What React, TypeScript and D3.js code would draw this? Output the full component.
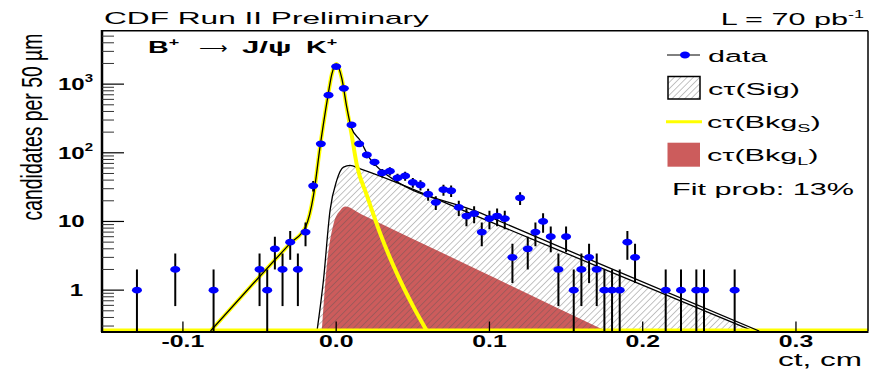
import React from "react";
import * as d3 from "d3";

const W = 876;
const H = 372;
const FONT = "'Liberation Sans', Arial, Helvetica, sans-serif";

// bin centres (cm) and candidates per 50 um
const binCt = [
  -0.13, -0.105, -0.08, -0.05, -0.045, -0.04, -0.035, -0.03, -0.025, -0.02, -0.015, -0.01, -0.005,
  0.0, 0.005, 0.01, 0.015, 0.02, 0.025, 0.03, 0.035, 0.04, 0.045, 0.05, 0.055, 0.06, 0.065, 0.07,
  0.075, 0.08, 0.085, 0.09, 0.095, 0.1, 0.105, 0.11, 0.115, 0.12, 0.125, 0.13, 0.135, 0.14, 0.145,
  0.15, 0.155, 0.16, 0.165, 0.17, 0.175, 0.18, 0.185, 0.19, 0.195, 0.215, 0.225, 0.235, 0.24, 0.26,
];
const binCounts = [
  1, 2, 1, 2, 1, 4, 2, 5, 2, 7, 33, 135, 690,
  1800, 870, 255, 135, 93, 73, 51, 54, 43, 46, 37, 34, 25, 19, 29,
  28, 16, 12, 13, 7, 11, 12, 11, 3, 22, 4, 7, 10, 6, 2,
  6, 1, 2, 3, 2, 1, 1, 1, 5, 3, 1, 1, 1, 1, 1,
];

// fit components (only the part above the axis floor)
const bkgSCt = [-0.082, -0.056, -0.03, -0.02, -0.0148, -0.0104, -0.0057, -0.0028, 0, 0.0037, 0.007, 0.0098, 0.0135, 0.02, 0.0287, 0.0396, 0.0504, 0.0592];
const bkgSVal = [0.25, 1.12, 4.8, 8.3, 24, 128, 611, 1410, 1970, 1194, 437, 200, 66, 24, 6.7, 1.75, 0.57, 0.25];

const totalCt = [-0.082, -0.056, -0.03, -0.02, -0.0148, -0.0104, -0.0057, -0.0028, 0, 0.0037, 0.007, 0.0098, 0.0157, 0.022, 0.0287, 0.094, 0.179, 0.276];
const totalVal = [0.25, 1.12, 4.8, 8.3, 24, 128, 611, 1410, 1970, 1200, 450, 235, 151, 82, 57, 13.3, 2.07, 0.25];

const sigCt = [-0.0125, -0.0083, -0.004, 0.0004, 0.0048, 0.009, 0.0157, 0.094, 0.179, 0.272];
const sigVal = [0.25, 1.4, 14.5, 40, 62, 65.6, 58.5, 11.4, 1.85, 0.25];

const bkgLCt = [-0.0094, -0.006, -0.0017, 0.0026, 0.006, 0.0157, 0.094, 0.176];
const bkgLVal = [0.25, 2.4, 9.3, 14.5, 16.5, 13, 1.9, 0.25];

const xTicks = [-0.1, 0.0, 0.1, 0.2, 0.3];
const xTickLabels = ["-0.1", "0.0", "0.1", "0.2", "0.3"];
const yMajor = [1, 10, 100, 1000];
const yMajorBase = ["1", "10", "10", "10"];
const yMajorExp = ["", "", "2", "3"];

const x = d3.scaleLinear().domain([-0.1528, 0.347]).range([102, 868]);
const y = d3.scaleLog().domain([0.254, 6000]).range([331, 30.7]);
const yc = (v: number) => y(Math.max(v, 0.254));

function pts(ct: number[], v: number[]): [number, number][] {
  return ct.map((c, i) => [x(c), yc(v[i])]);
}

const line = d3.line().curve(d3.curveMonotoneX);
const area = d3
  .area()
  .x((d) => d[0])
  .y0(331)
  .y1((d) => d[1])
  .curve(d3.curveMonotoneX);

function Txt(props: {
  x: number;
  y: number;
  sx?: number;
  size?: number;
  bold?: boolean;
  anchor?: string;
  children: React.ReactNode;
}) {
  const { sx = 1.8, size = 17, bold = false, anchor = "start" } = props;
  return (
    <text
      transform={`translate(${props.x},${props.y}) scale(${sx},1)`}
      fontFamily={FONT}
      fontSize={size}
      fontWeight={bold ? "bold" : "normal"}
      textAnchor={anchor}
      fill="#000"
    >
      {props.children}
    </text>
  );
}

export default function App() {
  const minorY: number[] = [];
  [0.1, 1, 10, 100, 1000].forEach((dec) => {
    for (let k = 2; k <= 9; k++) {
      const v = dec * k;
      if (v > 0.254 && v < 6000) minorY.push(v);
    }
  });

  return (
    <svg width={W} height={H} style={{ position: "absolute", left: 0, top: 0, background: "#fff" }}>
      <defs>
        <pattern id="hatch" patternUnits="userSpaceOnUse" width={4.5} height={4.5} patternTransform="rotate(45)">
          <line x1={0} y1={0} x2={0} y2={4.5} stroke="#555" strokeWidth={0.7} />
        </pattern>
        <clipPath id="frame">
          <rect x={102} y={30.7} width={766} height={300.3} />
        </clipPath>
      </defs>
      <rect width={W} height={H} fill="#fff" />

      <g clipPath="url(#frame)">
        {/* long-lived background */}
        <path d={area(pts(bkgLCt, bkgLVal)) || ""} fill="#cc5c5c" />
        {/* signal */}
        <path d={area(pts(sigCt, sigVal)) || ""} fill="url(#hatch)" />
        <path d={line(pts(sigCt, sigVal)) || ""} fill="none" stroke="#000" strokeWidth={1.3} />
        {/* short-lived background, floor part along the axis */}
        <line x1={102} x2={868} y1={330} y2={330} stroke="#ffff00" strokeWidth={3} />
        <path d={line(pts(bkgSCt, bkgSVal)) || ""} fill="none" stroke="#ffff00" strokeWidth={4} />
        {/* total fit */}
        <path d={line(pts(totalCt, totalVal)) || ""} fill="none" stroke="#000" strokeWidth={1.3} />

        {/* data */}
        {binCt.map((c, i) => {
          const n = binCounts[i];
          const e = Math.sqrt(n);
          return (
            <line
              key={"e" + i}
              x1={x(c)}
              x2={x(c)}
              y1={yc(n + e)}
              y2={yc(n - e)}
              stroke="#000"
              strokeWidth={2}
            />
          );
        })}
        {binCt.map((c, i) => (
          <ellipse key={"m" + i} cx={x(c)} cy={y(binCounts[i])} rx={5} ry={3.4} fill="#0000ff" />
        ))}
      </g>

      {/* frame */}
      <line x1={102} x2={868} y1={30.7} y2={30.7} stroke="#000" strokeWidth={1.5} />
      <line x1={868} x2={868} y1={30.7} y2={331} stroke="#000" strokeWidth={1.5} />
      <line x1={102} x2={102} y1={30} y2={332} stroke="#000" strokeWidth={2.5} />
      <line x1={101} x2={868.5} y1={332} y2={332} stroke="#000" strokeWidth={2} />

      {/* y ticks */}
      {yMajor.map((v) => (
        <line key={"yM" + v} x1={102} x2={124} y1={y(v)} y2={y(v)} stroke="#000" strokeWidth={1.2} />
      ))}
      {minorY.map((v) => (
        <line key={"ym" + v} x1={102} x2={114} y1={y(v)} y2={y(v)} stroke="#333" strokeWidth={1} />
      ))}
      {yMajor.map((v, i) =>
        yMajorBase[i] === "1" ? (
          <Txt key={"yl" + v} x={83} y={y(v) + 6} sx={1.5} size={16} bold anchor="end">
            1
          </Txt>
        ) : (
          <Txt key={"yl" + v} x={58} y={y(v) + 6} sx={1.5} size={16} bold>
            {yMajorBase[i]}
            {yMajorExp[i] && (
              <tspan fontSize={10} dy={-8}>
                {yMajorExp[i]}
              </tspan>
            )}
          </Txt>
        )
      )}

      {/* x ticks */}
      {xTicks.map((t, i) => (
        <g key={"xt" + i}>
          <line x1={x(t)} x2={x(t)} y1={331} y2={321.5} stroke="#000" strokeWidth={1.3} />
          <Txt x={x(t)} y={347} sx={1.55} size={16} bold anchor="middle">
            {xTickLabels[i]}
          </Txt>
        </g>
      ))}

      {/* axis titles */}
      <Txt x={862} y={366} size={17.5} anchor="end">
        ct, cm
      </Txt>
      <text
        transform="translate(42,127) scale(1.5,1) rotate(-90)"
        fontFamily={FONT}
        fontSize={19.4}
        textAnchor="middle"
      >
        candidates per 50 µm
      </text>

      {/* headers */}
      <Txt x={104} y={24} size={17} sx={1.86}>
        CDF Run II Preliminary
      </Txt>
      <Txt x={864} y={25} size={17} anchor="end">
        L = 70 pb<tspan fontSize={10} dy={-7}>-1</tspan>
      </Txt>

      {/* decay label */}
      <Txt x={148} y={53.3} size={16} bold>
        B<tspan fontSize={10} dy={-7}>+</tspan>
      </Txt>
      <Txt x={199} y={53.3} size={16} sx={1.25}>
        ⟶
      </Txt>
      <Txt x={242} y={53.3} size={16} bold sx={1.95}>
        J/ψ
      </Txt>
      <Txt x={306} y={53.3} size={16} bold>
        K<tspan fontSize={10} dy={-7}>+</tspan>
      </Txt>

      {/* legend */}
      <line x1={667} x2={700} y1={55} y2={55} stroke="#000" strokeWidth={1} />
      <ellipse cx={685} cy={55} rx={5} ry={3.4} fill="#0000ff" />
      <Txt x={708} y={61.5}>data</Txt>

      <rect x={668} y={76.5} width={32} height={22.5} fill="url(#hatch)" stroke="#000" strokeWidth={1.5} />
      <Txt x={708} y={94.5}>cτ(Sig)</Txt>

      <line x1={666} x2={702} y1={121.7} y2={121.7} stroke="#ffff00" strokeWidth={3} />
      <Txt x={707} y={128}>
        cτ(Bkg<tspan fontSize={11} dy={4}>S</tspan>
        <tspan dy={-4}>)</tspan>
      </Txt>

      <rect x={667.5} y={142.7} width={32.5} height={24} fill="#cc5c5c" />
      <Txt x={707} y={161}>
        cτ(Bkg<tspan fontSize={11} dy={4}>L</tspan>
        <tspan dy={-4}>)</tspan>
      </Txt>

      <Txt x={672} y={195}>Fit prob: 13%</Txt>
    </svg>
  );
}
